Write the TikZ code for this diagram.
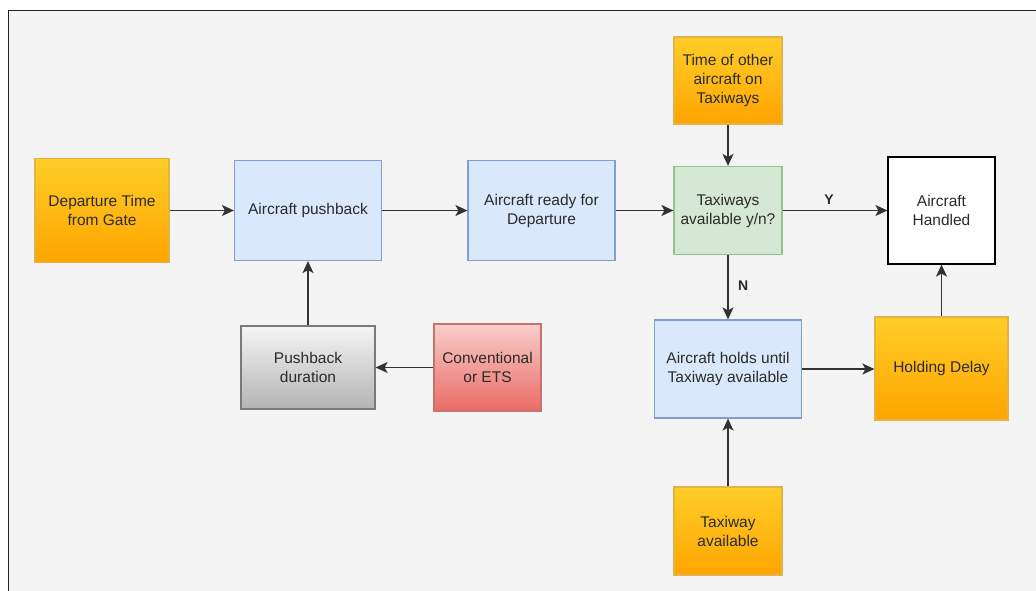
\documentclass[tikz,border=0pt]{standalone}
\usepackage{fontspec}
\setmainfont{Liberation Sans}
\usetikzlibrary{arrows.meta}
\definecolor{bgpanel}{HTML}{F4F4F4}
\definecolor{framec}{HTML}{222222}
\definecolor{linec}{HTML}{333333}
\definecolor{txt}{HTML}{2B2B2B}
\definecolor{orTop}{HTML}{FFCD28}
\definecolor{orBot}{HTML}{FFA500}
\definecolor{orLine}{HTML}{E3B34A}
\definecolor{blFill}{HTML}{DAE8FC}
\definecolor{blLine}{HTML}{7E9FCF}
\definecolor{grFill}{HTML}{D5E8D4}
\definecolor{grLine}{HTML}{93C08C}
\definecolor{gyTop}{HTML}{F5F5F5}
\definecolor{gyBot}{HTML}{B3B3B3}
\definecolor{gyLine}{HTML}{7A7A7A}
\definecolor{rdTop}{HTML}{F8CECC}
\definecolor{rdBot}{HTML}{EA6B66}
\definecolor{rdLine}{HTML}{C8726E}
\tikzset{
  box/.style={rectangle, inner sep=0pt, line width=1.2pt, align=center,
    text=txt, font=\fontsize{15.5}{19}\selectfont},
  orangebox/.style={box, top color=orTop, bottom color=orBot, draw=orLine},
  bluebox/.style={box, fill=blFill, draw=blLine},
  greenbox/.style={box, fill=grFill, draw=grLine},
  greybox/.style={box, top color=gyTop, bottom color=gyBot, draw=gyLine},
  redbox/.style={box, top color=rdTop, bottom color=rdBot, draw=rdLine},
  whitebox/.style={box, fill=white, draw=black},
  flow/.style={draw=linec, line width=1.4pt,
    -{Stealth[length=12pt,width=11pt,inset=3pt]}},
  lbl/.style={font=\bfseries\fontsize{14}{16}\selectfont, text=txt}
}
\begin{document}
\begin{tikzpicture}[x=1pt,y=-1pt]
\useasboundingbox (0,0) rectangle (1036,591);
% canvas panel
\fill[white] (0,0) rectangle (1036,591);
\fill[bgpanel] (8.5,10.5) rectangle (1036,591);
\draw[framec, line width=1.6pt] (8.5,591) -- (8.5,10.5) -- (1036,10.5);

% boxes: name at centre, size from left/top/right/bottom edges
\node[orangebox, minimum width=134pt, minimum height=104pt] (dep) at (102,210.5) {Departure Time\\from Gate};
\node[bluebox, minimum width=147pt, minimum height=100pt] (push) at (308,210.5) {Aircraft pushback};
\node[bluebox, minimum width=147pt, minimum height=100pt] (ready) at (541.5,210.5) {Aircraft ready for\\Departure};
\node[greenbox, minimum width=108pt, minimum height=88pt] (taxi) at (728,210.5) {Taxiways\\available y/n?};
\node[orangebox, minimum width=108pt, minimum height=87pt] (other) at (728,80.5) {Time of other\\aircraft on\\Taxiways};
\node[whitebox, minimum width=107pt, minimum height=107pt] (handled) at (941.5,210.5) {Aircraft\\Handled};
\node[greybox, minimum width=134pt, minimum height=83pt] (dur) at (308,367.5) {Pushback\\duration};
\node[redbox, minimum width=107pt, minimum height=87pt] (conv) at (487.5,367.5) {Conventional\\or ETS};
\node[bluebox, minimum width=147pt, minimum height=98pt] (hold) at (728,369) {Aircraft holds until\\Taxiway available};
\node[orangebox, minimum width=133pt, minimum height=103pt] (delay) at (941.5,368.5) {Holding Delay};
\node[orangebox, minimum width=108pt, minimum height=88pt] (avail) at (728,531) {Taxiway\\available};

% connectors
\draw[flow] (dep) -- (push);
\draw[flow] (push) -- (ready);
\draw[flow] (ready) -- (taxi);
\draw[flow] (taxi) -- node[lbl, above=2pt, xshift=-6pt] {Y} (handled);
\draw[flow] (other) -- (taxi);
\draw[flow] (taxi) -- node[lbl, right=6pt, yshift=2pt] {N} (hold);
\draw[flow] (hold.east) -- (hold.east -| delay.west);
\draw[flow] (delay) -- (handled);
\draw[flow] (avail) -- (hold);
\draw[flow] (dur) -- (push);
\draw[flow] (conv) -- (dur);
\end{tikzpicture}
\end{document}
